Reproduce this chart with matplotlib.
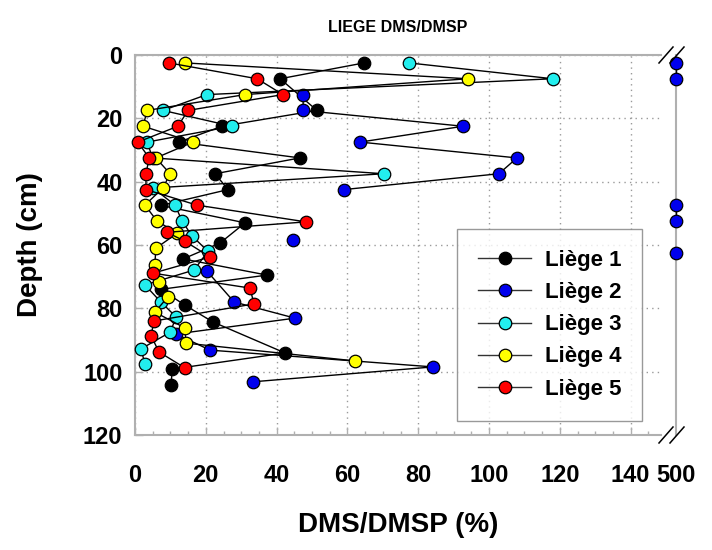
import matplotlib
matplotlib.use("Agg")
import matplotlib.pyplot as plt
import numpy as np
from matplotlib.lines import Line2D

plt.rcParams['font.family'] = ['Liberation Sans', 'DejaVu Sans']
plt.rcParams['font.weight'] = 'bold'

BREAK_VAL = 500

# Liège 1 (black)
l1_depth = [2.5, 7.5, 17.5, 22.5, 27.5, 32.5, 37.5, 42.5, 47.5, 53, 59.4, 64.4, 69.5, 74, 79, 84.3, 94.1, 99.2, 104.2]
l1_val = [64.7, 41, 51.4, 24.6, 12.4, 46.6, 22.6, 26.3, 7.3, 31.1, 24, 13.6, 37.3, 7.3, 14.1, 22, 42.4, 10.5, 10.2]

# Liège 2 (blue)
l2_depth = [2.5, 7.5, 12.5, 17.5, 22.5, 27.5, 32.5, 37.5, 42.5, 47.5, 52.5, 58.4, 62.5, 68.2, 78, 83.1, 88.1, 93.2, 98.5, 103.2]
l2_val = [500, 500, 47.5, 47.5, 92.7, 63.6, 107.9, 102.8, 59, 500, 500, 44.6, 500, 20.3, 28, 45.2, 11.6, 21.2, 84.2, 33.3]

# Liège 3 (cyan)
l3_depth = [2.5, 7.5, 12.5, 17.5, 22.5, 27.5, 32.5, 37.5, 42, 47.4, 52.4, 57, 62, 67.9, 72.6, 78, 82.7, 87.5, 92.8, 97.6]
l3_val = [77.4, 118, 20.3, 7.9, 27.4, 3.4, 5, 70.3, 5.1, 11.3, 13.3, 16, 20.6, 16.7, 2.8, 7.3, 11.6, 10, 1.7, 2.8]

# Liège 4 (yellow)
l4_depth = [2.5, 7.5, 12.5, 17.5, 22.5, 27.5, 32.5, 37.5, 42, 47.4, 52.4, 56.3, 61, 66.3, 71.7, 76.4, 81.2, 86.2, 91, 96.6]
l4_val = [14.1, 94, 31.1, 3.4, 2.3, 16.4, 5.9, 9.9, 7.9, 2.8, 6.2, 11.9, 5.9, 5.6, 6.8, 9.3, 5.6, 14.1, 14.4, 62.1]

# Liège 5 (red)
l5_depth = [2.5, 7.5, 12.5, 17.5, 22.5, 27.5, 32.5, 37.5, 42.5, 47.4, 52.7, 56, 58.8, 63.8, 68.9, 73.6, 78.6, 84, 88.6, 93.8, 98.8]
l5_val = [9.6, 34.5, 41.8, 15, 12.1, 0.8, 4, 3.1, 3.1, 17.5, 48.3, 9, 14.1, 21.2, 5.1, 32.5, 33.6, 5.4, 4.5, 6.8, 14.1]

series = [
    ("Liège 1", l1_depth, l1_val, "#000000"),
    ("Liège 2", l2_depth, l2_val, "#0000ee"),
    ("Liège 3", l3_depth, l3_val, "#22eeee"),
    ("Liège 4", l4_depth, l4_val, "#ffff00"),
    ("Liège 5", l5_depth, l5_val, "#ff0000"),
]

x_ticks = [0, 20, 40, 60, 80, 100, 120, 140]
y_ticks = [0, 20, 40, 60, 80, 100, 120]

W, H = 712, 550
fig = plt.figure(figsize=(W / 100, H / 100), dpi=100)

def fx(p):
    return p / W

def fy(p):
    return 1 - p / H

L, R, T, B = 135, 661, 55, 435
ax = fig.add_axes([fx(L), fy(B), fx(R - L), fy(T) - fy(B)])
ax2 = fig.add_axes([fx(668), fy(B), fx(676 - 668), fy(T) - fy(B)])

gridc = '#9a9a9a'
spinec = '#b0b0b0'

xmax = (R - L) / 3.54
ax.set_xlim(0, xmax)
ax.set_ylim(120, 0)
ax2.set_xlim(496, 500)
ax2.set_ylim(120, 0)

ms = 9
for name, d, v, c in series:
    d = np.array(d, dtype=float)
    v = np.array(v, dtype=float)
    main_v = np.where(v >= BREAK_VAL, np.nan, v)
    ax.plot(main_v, d, '-', color='black', lw=1.0, marker='o', ms=ms,
            mfc=c, mec='black', mew=0.9, clip_on=False, zorder=3)
    brk_v = np.where(v >= BREAK_VAL, v, np.nan)
    if np.any(~np.isnan(brk_v)):
        ax2.plot(brk_v, d, '-', color='black', lw=1.0, marker='o', ms=ms,
                 mfc=c, mec='black', mew=0.9, clip_on=False, zorder=3)

# main axes styling
ax.set_xticks(x_ticks)
ax.set_xticks(np.arange(0, xmax, 5), minor=True)
ax.set_yticks(y_ticks)
ax.tick_params(axis='x', which='major', direction='in', length=6, width=1,
               color=spinec, labelsize=17, pad=21, top=False)
ax.tick_params(axis='x', which='minor', direction='in', length=3, width=1,
               color=spinec, top=False)
ax.tick_params(axis='y', which='major', direction='in', length=6, width=1,
               color=spinec, labelsize=17, pad=9, right=False)
for lab in ax.get_xticklabels() + ax.get_yticklabels():
    lab.set_fontweight('bold')
ax.grid(True, which='major', color=gridc, linestyle=(0, (1, 3)), lw=1.0)
ax.set_axisbelow(True)
ax.spines['right'].set_visible(False)
for s in ['left', 'top', 'bottom']:
    ax.spines[s].set_color(spinec)
    ax.spines[s].set_linewidth(1.5)

# break axes styling
ax2.set_xticks([500])
ax2.set_xticklabels(['500'])
ax2.set_yticks([])
ax2.tick_params(axis='x', direction='in', length=0, labelsize=17, pad=21)
for lab in ax2.get_xticklabels():
    lab.set_fontweight('bold')
for s in ['left', 'top', 'bottom']:
    ax2.spines[s].set_visible(False)
ax2.spines['right'].set_color(spinec)
ax2.spines['right'].set_linewidth(1.5)
ax2.patch.set_alpha(0)
ax2.grid(True, axis='y', color=gridc, linestyle=(0, (1, 3)), lw=1.0)

# break marks
for yc in (T, B):
    for xc in (666, 677):
        fig.add_artist(Line2D([fx(xc - 7), fx(xc + 7)], [fy(yc + 8), fy(yc - 8)],
                              color='black', lw=1.1))

fig.text(fx(398), fy(28), 'LIEGE DMS/DMSP', ha='center', va='center',
         fontsize=11.5, fontweight='bold')
fig.text(fx(398), fy(525), 'DMS/DMSP (%)', ha='center', va='center',
         fontsize=20, fontweight='bold')
fig.text(fx(30), fy(245), 'Depth (cm)', ha='center', va='center',
         fontsize=20, fontweight='bold', rotation=90)

handles = [Line2D([0], [0], color='#333333', lw=1.0, marker='o', ms=ms,
                  mfc=c, mec='black', mew=0.9) for _, _, _, c in series]
labels = [s[0] for s in series]
leg = ax.legend(handles, labels, loc='upper left',
                bbox_to_anchor=(fx(457), fy(229)), bbox_transform=fig.transFigure,
                borderaxespad=0, frameon=True, fancybox=False,
                prop={'weight': 'bold', 'size': 16}, handlelength=2.4,
                handletextpad=0.6, labelspacing=0.5, borderpad=0.95)
leg.get_frame().set_edgecolor('#808080')
leg.get_frame().set_linewidth(1.0)

fig.savefig('out.png', dpi=100)
